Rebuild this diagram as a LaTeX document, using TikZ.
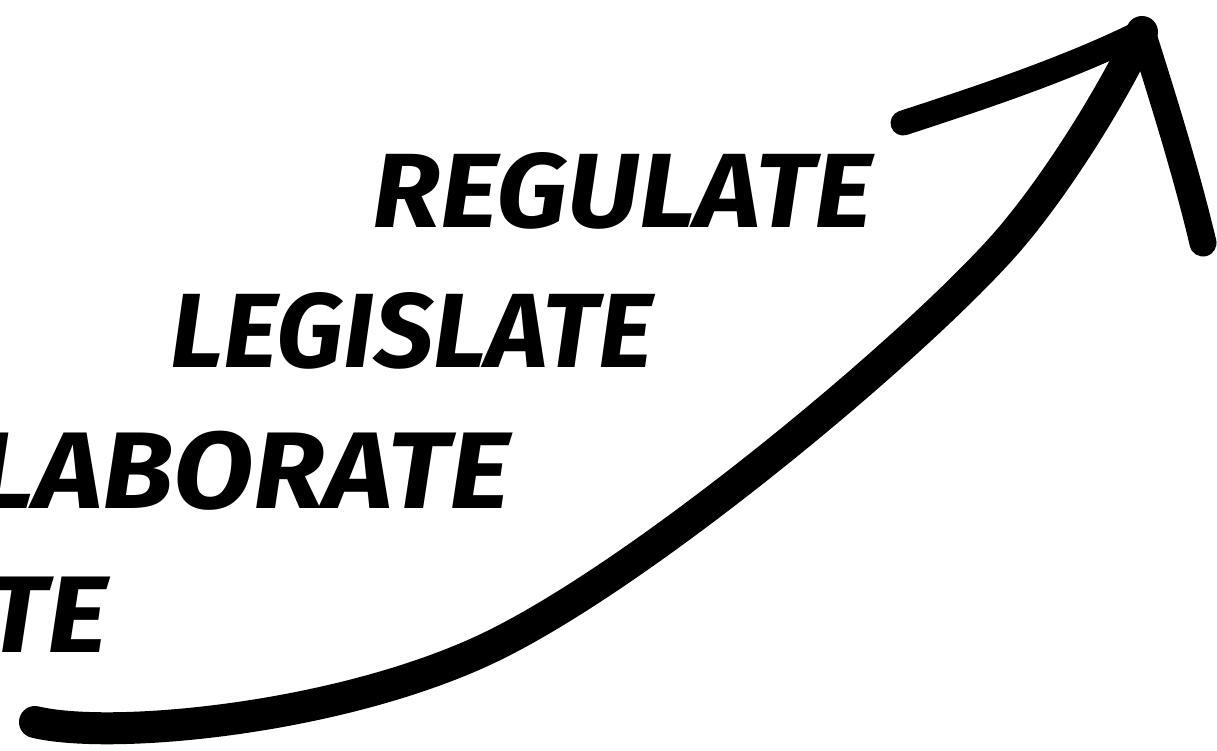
\documentclass[tikz,border=0pt]{standalone}
\usepackage{fontspec}
\setmainfont{Fira Sans}
\begin{document}
\begin{tikzpicture}[x=1pt,y=-1pt,
  word/.style={inner sep=0pt, font=\fontsize{109}{109}\selectfont\bfseries\itshape},
  stroke/.style={line width=30pt, line cap=round, line join=round}]
\useasboundingbox (0,0) rectangle (1217,750);
\clip (0,0) rectangle (1217,750);
\node[word, anchor=base west] (regulate) at (372,227) {\resizebox{500pt}{75pt}{REGULATE}};
\node[word, anchor=base west] (legislate) at (170,367) {\resizebox{483pt}{75pt}{LEGISLATE}};
\node[word, anchor=base east, xscale=1.075] (collaborate) at (510,508) {LLABORATE};
\node[word, anchor=base east, xscale=1.07] (te) at (108,652) {TE};
\coordinate (tail) at (35,722);
\coordinate (bend1) at (480,652);
\coordinate (bend2) at (1000,250);
\coordinate (tip) at (1142,32);
\coordinate (lbarb) at (903,123);
\coordinate (rbarb) at (1203,243);
\draw[stroke, line width=32pt] (tail) .. controls (110,740) and (330,720) .. (bend1)
  .. controls (630,584) and (900,360) .. (bend2)
  .. controls (1050,195) and (1110,100) .. (tip);
\draw[stroke, line width=25pt] (lbarb) .. controls (980,98) and (1070,68) .. (tip);
\draw[stroke, line width=27pt] (tip) .. controls (1162,95) and (1187,175) .. (rbarb);
\end{tikzpicture}
\end{document}
